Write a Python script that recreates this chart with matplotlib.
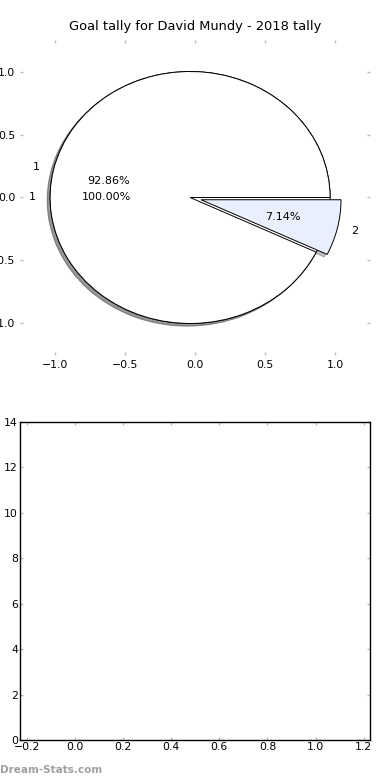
import matplotlib
matplotlib.use("Agg")
import matplotlib.pyplot as plt

title = "Goal tally for David Mundy - 2018 tally"
total_values = [1]
total_labels = ["1"]
split_values = [13, 1]
split_labels = ["1", "2"]
split_explode = [0, 0.08]
pie_colors = ["white", "#e9effc"]
pie_xticks = [-1.0, -0.5, 0.0, 0.5, 1.0]
pie_yticks = [-1.0, -0.5, 0.0, 0.5, 1.0]
bar_xticks = [-0.2, 0.0, 0.2, 0.4, 0.6, 0.8, 1.0, 1.2]
bar_yticks = [0, 2, 4, 6, 8, 10, 12, 14]

fig = plt.figure(figsize=(3.9, 7.8), dpi=100)
ax1 = fig.add_axes([0.0513, 0.5449, 0.8974, 0.4038])
ax2 = fig.add_axes([0.0513, 0.0509, 0.8974, 0.4085])

wp = dict(edgecolor="black", linewidth=0.7)
tp = dict(fontsize=8.0, color="black")
sh = dict(ox=-0.015, oy=-0.015, alpha=0.35)
ctr = (-0.035, 0)
ax1.pie(total_values, labels=total_labels, colors=[pie_colors[0]],
        autopct="%1.2f%%", shadow=sh, wedgeprops=wp, textprops=tp,
        center=ctr)
ax1.pie(split_values, labels=split_labels, colors=pie_colors,
        explode=split_explode, autopct="%1.2f%%", shadow=sh,
        wedgeprops=wp, textprops=tp, center=ctr)
ax1.set_aspect("auto")
ax1.set_frame_on(False)
ax1.set_xlim(-1.25, 1.25)
ax1.set_ylim(-1.25, 1.25)
ax1.set_xticks(pie_xticks)
ax1.set_yticks(pie_yticks)
ax1.tick_params(direction="in", length=2.5, width=1, color="#bbbbbb",
                labelsize=7.8, top=True, right=True, pad=3.5)
ax1.set_title(title, fontsize=9.4, pad=7)

ax2.set_xlim(-0.228, 1.226)
ax2.set_ylim(0, 14)
ax2.set_xticks(bar_xticks)
ax2.set_yticks(bar_yticks)
ax2.tick_params(direction="in", length=2.5, width=1, color="#bbbbbb",
                labelsize=7.8, top=True, right=True, pad=1.5)
for s in ax2.spines.values():
    s.set_linewidth(1)
    s.set_color("black")

fig.text(0.0, 0.0128, "Dream-Stats.com", fontsize=7.5, fontweight="bold",
         color="#a0a0a0", ha="left", va="center")

fig.savefig("out.png", dpi=100)
